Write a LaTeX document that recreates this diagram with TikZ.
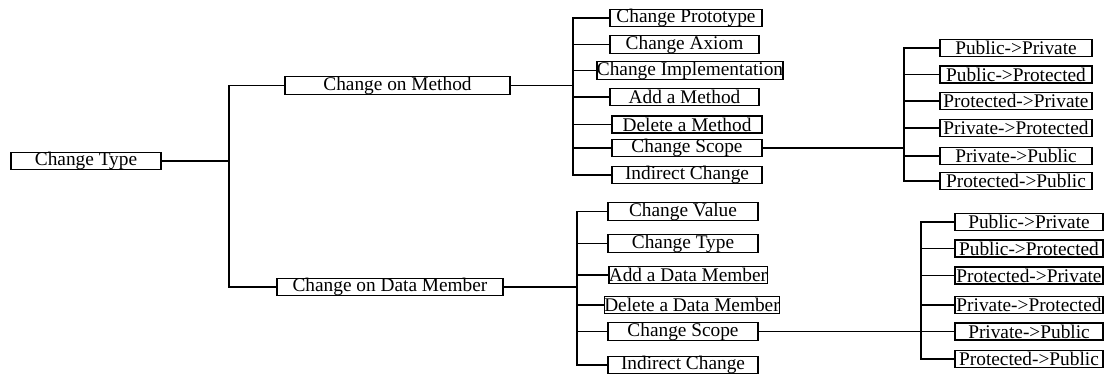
\documentclass[tikz,border=0pt]{standalone}
\usepackage{fontspec}
\setmainfont{Liberation Serif}
\tikzset{box/.style={draw, inner sep=0pt, minimum height=0.34cm,
	minimum width=#1*0.02cm, font=\fontsize{11}{12}\selectfont},
	box/.default=150}
\newcommand{\myBranches}[2]{
\foreach \n in {#2} {\draw (#1 |- \n.west) -- (\n.west);}
}

\begin{document}
\begin{tikzpicture}[x=0.02cm, y=-0.02cm, line width=0.75pt]
	\useasboundingbox (0,0) rectangle (1109,375);
	% root and the two kinds of change
	\node[box=150] (type) at (86,161) {Change Type};
	\node[box=225] (meth) at (397.5,85.5) {Change on Method};
	\node[box=226] (dat) at (390,287) {Change on Data Member};
	% changes on a method
	\node[box=152] (proto) at (686,18) {Change Prototype};
	\node[box=149] (axiom) at (684.5,44.5) {Change Axiom};
	\node[box=160] (impl) at (690,70.5) {Change Implementation};
	\node[box=149] (addm) at (684.5,97) {Add a Method};
	\node[box=150] (delm) at (687,124.5) {Delete a Method};
	\node[box=150] (mscope) at (687,148) {Change Scope};
	\node[box=150] (mind) at (687,175) {Indirect Change};
	% scope changes on a method
	\node[box=152] (mpubpri) at (1016,48) {Public->Private};
	\node[box=152] (mpubpro) at (1016,74.5) {Public->Protected};
	\node[box=152] (mpropri) at (1016,101) {Protected->Private};
	\node[box=152] (mpripro) at (1016,128) {Private->Protected};
	\node[box=152] (mpripub) at (1016,156) {Private->Public};
	\node[box=152] (mpropub) at (1016,181) {Protected->Public};
	% changes on a data member
	\node[box=150] (cval) at (683,211.5) {Change Value};
	\node[box=150] (ctype) at (683,243.5) {Change Type};
	\node[box=158] (adddm) at (688,275) {Add a Data Member};
	\node[box=166] (deldm) at (692,305) {Delete a Data Member};
	\node[box=150] (dscope) at (683,331.5) {Change Scope};
	\node[box=150] (dind) at (683,365) {Indirect Change};
	% scope changes on a data member
	\node[box=148] (dpubpri) at (1029,222) {Public->Private};
	\node[box=148] (dpubpro) at (1029,248.5) {Public->Protected};
	\node[box=148] (dpropri) at (1029,275.5) {Protected->Private};
	\node[box=148] (dpripro) at (1029,305) {Private->Protected};
	\node[box=148] (dpripub) at (1029,331.5) {Private->Public};
	\node[box=148] (dpropub) at (1029,359) {Protected->Public};
	% bus lines
	\coordinate (tbus) at (229,85.5);
	\coordinate (mbus) at (573,18);
	\coordinate (msbus) at (904,48);
	\coordinate (dbus) at (577,211.5);
	\coordinate (dsbus) at (921,222);
	% drawing root branches
	\draw (type.east) -- (type.east -| tbus);
	\draw (meth.west) -- (tbus) |- (dat.west);
	% drawing method branches
	\draw (meth.east) -- (meth.east -| mbus);
	\draw (proto.west) -- (mbus) |- (mind.west);
	\myBranches{mbus}{axiom,impl,addm,delm,mscope}
	\draw (mscope.east) -- (mscope.east -| msbus);
	\draw (mpubpri.west) -- (msbus) |- (mpropub.west);
	\myBranches{msbus}{mpubpro,mpropri,mpripro,mpripub}
	% drawing data member branches
	\draw (dat.east) -- (dat.east -| dbus);
	\draw (cval.west) -- (dbus) |- (dind.west);
	\myBranches{dbus}{ctype,adddm,deldm,dscope}
	\draw (dscope) -- (dpripub);
	\draw (dpubpri.west) -- (dsbus) |- (dpropub.west);
	\myBranches{dsbus}{dpubpro,dpropri,dpripro}
\end{tikzpicture}
\end{document}
